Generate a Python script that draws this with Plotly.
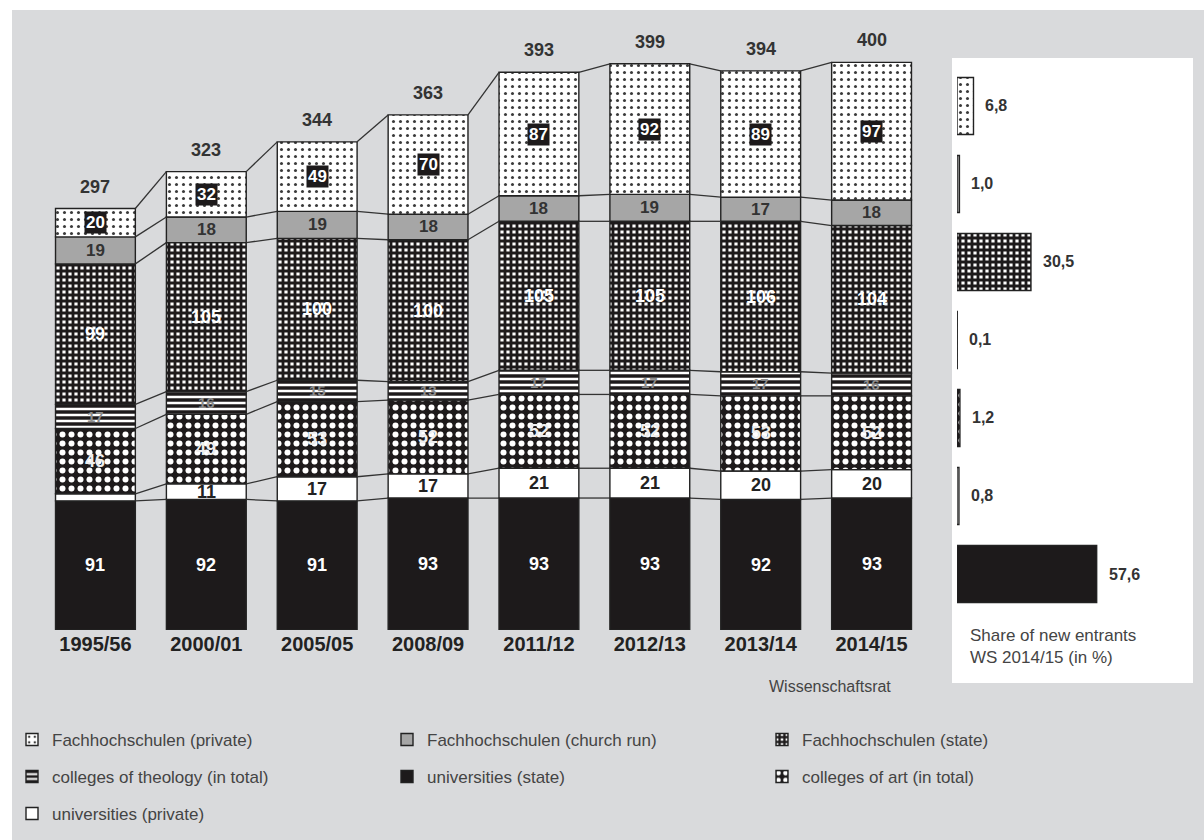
import plotly.graph_objects as go

# ---- data (new entrants in thousands, by type of institution) ----
years = ["1995/56", "2000/01", "2005/05", "2008/09", "2011/12", "2012/13", "2013/14", "2014/15"]
totals = [297, 323, 344, 363, 393, 399, 394, 400]

uni_state = [91, 92, 91, 93, 93, 93, 92, 93]
uni_private = [5, 11, 17, 17, 21, 21, 20, 20]
art = [46, 49, 53, 52, 52, 52, 53, 52]
theology = [17, 16, 15, 13, 17, 17, 17, 16]
fh_state = [99, 105, 100, 100, 105, 105, 106, 104]
fh_church = [19, 18, 19, 18, 18, 19, 17, 18]
fh_private = [20, 32, 49, 70, 87, 92, 89, 97]

# share of new entrants WS 2014/15 (in %)
share_uni_state = 57.6
share_uni_private = 0.8
share_art = 1.2
share_theology = 0.1
share_fh_state = 30.5
share_fh_church = 1.0
share_fh_private = 6.8

W, H = 1204, 840
DARK = "#1d1a1b"


def fx(p):
    return p / W


def fy(p):
    return 1 - p / H


# stacking order from bottom to top; styles for bars, value labels and legend row
series = [
    dict(name="universities (state)", values=uni_state, share=share_uni_state,
         legend="legend2", rank=2, color=DARK, pattern=None,
         label=dict(color="white", size=18)),
    dict(name="universities (private)", values=uni_private, share=share_uni_private,
         legend="legend3", rank=1, color="white", pattern=None,
         label=dict(color="#222", size=18), min_label=8),
    dict(name="colleges of art (in total)", values=art, share=share_art,
         legend="legend2", rank=3, color=DARK,
         pattern=dict(shape=".", fgcolor="white", bgcolor=DARK, size=9, solidity=0.35),
         label=dict(color="#eeeeee", size=18)),
    dict(name="colleges of theology (in total)", values=theology, share=share_theology,
         legend="legend2", rank=1, color=DARK,
         pattern=dict(shape="-", fgcolor="white", bgcolor=DARK, size=6, solidity=0.42),
         label=dict(color="#8c8c8c", size=15)),
    dict(name="Fachhochschulen (state)", values=fh_state, share=share_fh_state,
         legend="legend", rank=3, color=DARK,
         pattern=dict(shape="+", fgcolor=DARK, bgcolor="white", size=6, solidity=0.72),
         label=dict(color="white", size=18)),
    dict(name="Fachhochschulen (church run)", values=fh_church, share=share_fh_church,
         legend="legend", rank=2, color="#a6a6a6", pattern=None,
         label=dict(color="#333", size=17)),
    dict(name="Fachhochschulen (private)", values=fh_private, share=share_fh_private,
         legend="legend", rank=1, color="white",
         pattern=dict(shape=".", fgcolor="#3a3a3a", bgcolor="white", size=7, solidity=0.15),
         label=dict(color="white", size=17), boxed=True),
]

BAR_W = 0.72
xs = list(range(len(years)))

fig = go.Figure()
annotations = []

base = [0] * len(years)
levels = []
for s in series:
    marker = dict(color=s["color"], line=dict(color="#222", width=1.4))
    if s["pattern"]:
        marker["pattern"] = dict(fillmode="replace", **s["pattern"])
    fig.add_trace(go.Bar(
        x=xs, y=s["values"], base=base, name=s["name"], width=BAR_W,
        marker=marker, legend=s["legend"], legendrank=s["rank"], hoverinfo="skip",
        xaxis="x", yaxis="y",
    ))
    for i, v in enumerate(s["values"]):
        if v < s.get("min_label", 0):
            continue
        ann = dict(x=xs[i], y=base[i] + v / 2, xref="x", yref="y", text=str(v),
                   showarrow=False,
                   font=dict(color=s["label"]["color"], size=s["label"]["size"], weight="bold"))
        if s.get("boxed"):
            ann.update(bgcolor=DARK, borderpad=1)
        annotations.append(ann)
    base = [b + v for b, v in zip(base, s["values"])]
    levels.append(list(base))

# connector lines between corresponding segment boundaries of adjacent bars
for lev in levels:
    lx, ly = [], []
    for i in range(len(years) - 1):
        lx += [xs[i] + BAR_W / 2, xs[i + 1] - BAR_W / 2, None]
        ly += [lev[i], lev[i + 1], None]
    fig.add_trace(go.Scatter(x=lx, y=ly, mode="lines", line=dict(color="#333", width=1.3),
                             showlegend=False, hoverinfo="skip", xaxis="x", yaxis="y"))

# totals above the bars
for i, t in enumerate(totals):
    annotations.append(dict(x=xs[i], y=t, xref="x", yref="y", text=str(t), showarrow=False,
                            yanchor="bottom", yshift=10,
                            font=dict(color="#333", size=18, weight="bold")))

# side panel: share of new entrants WS 2014/15
cats = [s["name"] for s in series]
for s in series:
    marker = dict(color=s["color"], line=dict(color="#222", width=1.4))
    if s["pattern"]:
        marker["pattern"] = dict(fillmode="replace", **s["pattern"])
    fig.add_trace(go.Bar(
        x=[s["share"]], y=[s["name"]], orientation="h", width=0.73,
        marker=marker, showlegend=False, hoverinfo="skip",
        xaxis="x2", yaxis="y2",
    ))
    annotations.append(dict(x=s["share"], y=s["name"], xref="x2", yref="y2",
                            text=f"{s['share']:.1f}".replace(".", ","), showarrow=False,
                            xanchor="left", xshift=10,
                            font=dict(color="#333", size=16, weight="bold")))

annotations.append(dict(x=fx(968), y=fy(646), xref="paper", yref="paper", xanchor="left",
                        yanchor="middle", align="left", showarrow=False,
                        text="Share of new entrants<br>WS 2014/15 (in %)",
                        font=dict(color="#444", size=17)))
annotations.append(dict(x=fx(893), y=fy(686), xref="paper", yref="paper", xanchor="right",
                        yanchor="middle", showarrow=False, text="Wissenschaftsrat",
                        font=dict(color="#444", size=16)))

shapes = [
    dict(type="rect", xref="paper", yref="paper", x0=fx(12), x1=1, y0=0, y1=fy(10),
         fillcolor="#d9dadc", line=dict(width=0), layer="below"),
    dict(type="rect", xref="paper", yref="paper", x0=fx(952), x1=fx(1193), y0=fy(683), y1=fy(58),
         fillcolor="white", line=dict(width=0), layer="below"),
]


def legend_row(top_px):
    return dict(orientation="h", xref="container", yref="container", x=fx(12), y=fy(top_px),
                xanchor="left", yanchor="top", entrywidth=330, entrywidthmode="pixels",
                font=dict(size=17, color="#444"), bgcolor="rgba(0,0,0,0)", traceorder="normal")


fig.update_layout(
    width=W, height=H,
    margin=dict(l=0, r=0, t=0, b=0, autoexpand=False),
    paper_bgcolor="white", plot_bgcolor="rgba(0,0,0,0)",
    font=dict(family="Liberation Sans, Arial, sans-serif", color="#333"),
    barmode="overlay",
    xaxis=dict(domain=[fx(40), fx(927)], range=[-0.5, 7.5], tickvals=xs, ticktext=years,
               showgrid=False, zeroline=False, showline=False, ticks="",
               tickfont=dict(size=20, color="#222", weight="bold"), anchor="y", fixedrange=True),
    yaxis=dict(domain=[fy(630), fy(34)], range=[0, 420], visible=False, anchor="x"),
    xaxis2=dict(domain=[fx(957), fx(957 + 194)], range=[0, 80], visible=False, anchor="y2"),
    yaxis2=dict(domain=[fy(613), fy(67)], type="category", categoryorder="array",
                categoryarray=cats, visible=False, anchor="x2"),
    legend=legend_row(722),
    legend2=legend_row(759),
    legend3=legend_row(796),
    annotations=annotations,
    shapes=shapes,
)

fig.write_html("out.html")
